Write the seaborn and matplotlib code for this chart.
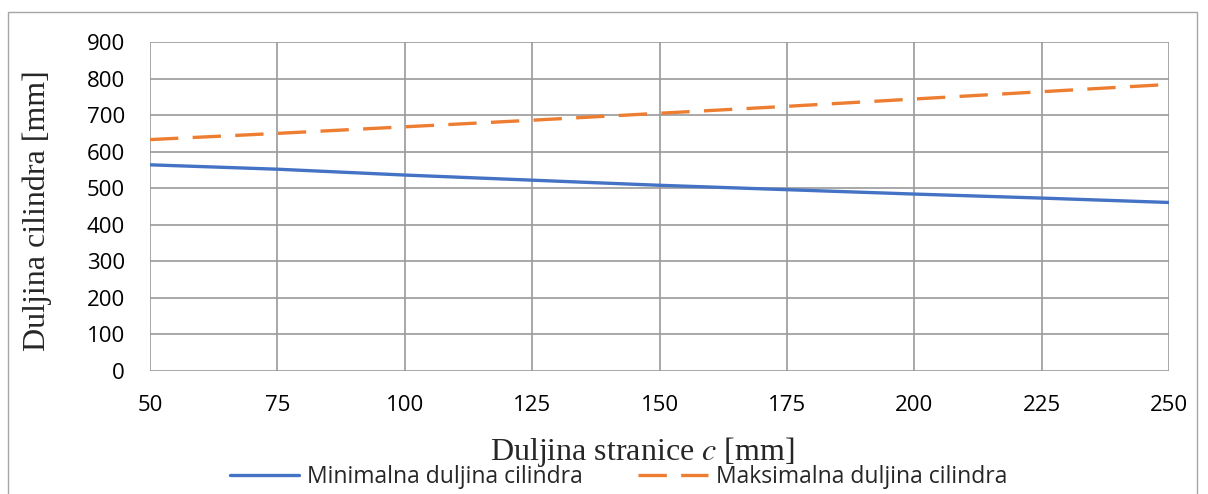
import matplotlib.pyplot as plt
import pandas as pd
import seaborn as sns
from matplotlib.patches import Rectangle

# duljina stranice c [mm]
c_vals = [50, 75, 100, 125, 150, 175, 200, 225, 250]
min_len = [564, 552, 536, 522, 508, 496, 484, 473, 461]
max_len = [633, 650, 668, 686, 705, 724, 744, 764, 784]

series_names = ["Minimalna duljina cilindra", "Maksimalna duljina cilindra"]
y_ticks = [0, 100, 200, 300, 400, 500, 600, 700, 800, 900]
x_ticks = [50, 75, 100, 125, 150, 175, 200, 225, 250]

df = pd.DataFrame(
    {
        "c": c_vals * 2,
        "duljina": min_len + max_len,
        "serija": [series_names[0]] * len(c_vals) + [series_names[1]] * len(c_vals),
    }
)

sns.set_theme(style="white")
plt.rcParams["mathtext.fontset"] = "stix"
tick_font = ["Open Sans", "DejaVu Sans"]

fig = plt.figure(figsize=(12.08, 4.94), dpi=100)
ax = fig.add_axes([0.1242, 0.249, 0.8435, 0.666])

palette = {series_names[0]: "#4472C4", series_names[1]: "#ED7D31"}
dash_pat = (8.5, 4.3)
dashes = {series_names[0]: "", series_names[1]: dash_pat}
sns.lineplot(
    data=df,
    x="c",
    y="duljina",
    hue="serija",
    style="serija",
    palette=palette,
    dashes=dashes,
    linewidth=2.4,
    ax=ax,
    legend=False,
)

ax.set_xlim(50, 250)
ax.set_ylim(0, 900)
ax.set_xticks(x_ticks)
ax.set_yticks(y_ticks)
ax.grid(True, color="#9a9a9a", linewidth=1.2)
ax.set_axisbelow(True)
for s in ax.spines.values():
    s.set_visible(False)
ax.tick_params(axis="both", length=0, labelsize=16, colors="black")
ax.tick_params(axis="x", pad=17)
ax.tick_params(axis="y", pad=18)
for lab in ax.get_xticklabels() + ax.get_yticklabels():
    lab.set_family(tick_font)

ax.set_xlabel("")
ax.set_ylabel("")
fig.text(0.532, 0.085, "Duljina stranice $c$ [mm]", family="Liberation Serif",
         fontsize=23, ha="center", va="center")
fig.text(0.031, 0.573, "Duljina cilindra [mm]", family="Liberation Serif",
         fontsize=23, rotation=90, ha="center", va="center")

handles = [
    plt.Line2D([], [], color="#4472C4", linewidth=2.4),
    plt.Line2D([], [], color="#ED7D31", linewidth=2.4, dashes=dash_pat),
]
fig.legend(
    handles,
    series_names,
    loc="center",
    bbox_to_anchor=(0.512, 0.034),
    ncol=2,
    frameon=False,
    handlelength=3.05,
    columnspacing=2.4,
    handletextpad=0.35,
    borderpad=0,
    prop={"family": tick_font, "size": 16.5},
)

# okvir grafikona
fig.patches.append(
    Rectangle((0.0066, -0.05), 0.984, 1.0257, transform=fig.transFigure,
              fill=False, edgecolor="#a6a6a6", linewidth=1.0)
)

fig.savefig("out.png", dpi=100)
